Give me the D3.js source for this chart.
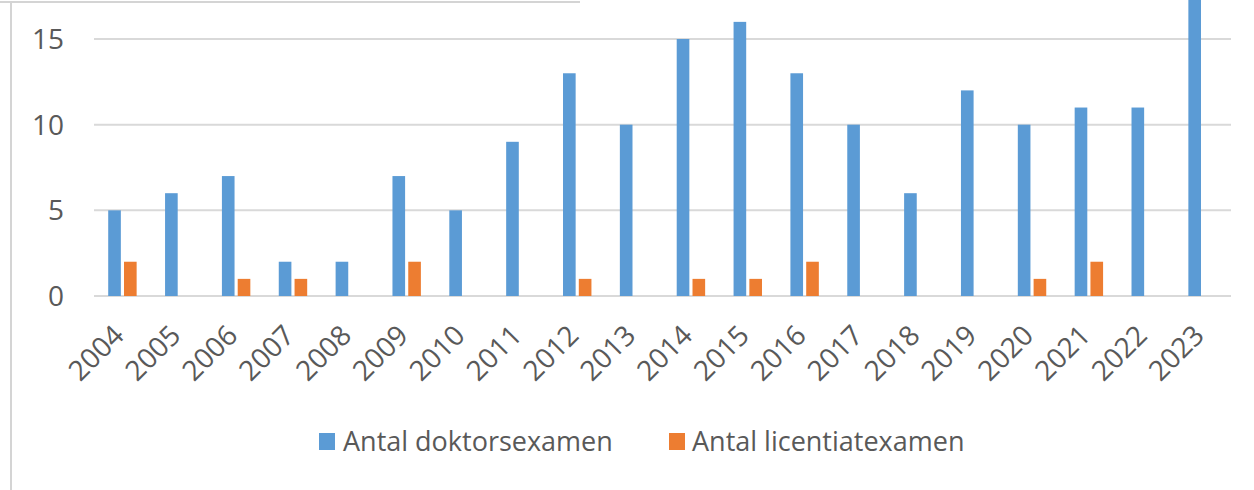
<!DOCTYPE html>
<html>
<head>
<meta charset="utf-8">
<script src="https://cdn.jsdelivr.net/npm/d3@7"></script>
<style>
  html, body { margin: 0; padding: 0; background: #fff; }
  svg { display: block; }
  text { font-family: "Open Sans", "Noto Sans", sans-serif; fill: #595959; }
</style>
</head>
<body>
<svg id="chart" width="1254" height="490"></svg>
<script>
const years = ["2004","2005","2006","2007","2008","2009","2010","2011","2012","2013","2014","2015","2016","2017","2018","2019","2020","2021","2022","2023"];
const doktor = [5,6,7,2,2,7,5,9,13,10,15,16,13,10,6,12,10,11,11,18];
const licentiat = [2,0,1,1,0,2,0,0,1,0,1,1,2,0,0,0,1,2,0,0];
const seriesNames = ["Antal doktorsexamen", "Antal licentiatexamen"];
const colors = ["#5B9BD5", "#ED7D31"];
const yTicks = [0,5,10,15];

const svg = d3.select("#chart");
const W = 1254, H = 490;

// decorative frame lines of the screenshot
svg.append("line").attr("x1", 0).attr("x2", 580).attr("y1", 2).attr("y2", 2)
  .attr("stroke", "#d4d4d4").attr("stroke-width", 2);
svg.append("line").attr("x1", 11).attr("x2", 11).attr("y1", 2).attr("y2", H)
  .attr("stroke", "#d4d4d4").attr("stroke-width", 2);

const x0 = d3.scaleBand().domain(years).range([94, 1231]).paddingInner(0.5).paddingOuter(0.25);
const x1 = d3.scaleBand().domain([0,1]).range([0, x0.bandwidth()]).paddingInner(0.2);
const y = d3.scaleLinear().domain([0, 15]).range([296, 39]);

// gridlines
const grid = svg.append("g");
grid.selectAll("line").data(yTicks).join("line")
  .attr("x1", 94).attr("x2", 1231)
  .attr("y1", d => y(d)).attr("y2", d => y(d))
  .attr("stroke", "#d9d9d9").attr("stroke-width", 2);

// y labels
svg.append("g").selectAll("text").data(yTicks).join("text")
  .attr("x", 64).attr("y", d => y(d)).attr("dy", "0.36em")
  .attr("text-anchor", "end").attr("font-size", 28)
  .text(d => d);

// bars
const data = years.map((yr, i) => ({ yr, vals: [doktor[i], licentiat[i]] }));
const groups = svg.append("g").selectAll("g").data(data).join("g")
  .attr("transform", d => `translate(${x0(d.yr)},0)`);
groups.selectAll("rect").data(d => d.vals.map((v, k) => ({ v, k }))).join("rect")
  .attr("x", d => x1(d.k)).attr("width", x1.bandwidth())
  .attr("y", d => y(d.v)).attr("height", d => y(0) - y(d.v))
  .attr("fill", d => colors[d.k]);

// x labels
svg.append("g").selectAll("text").data(years).join("text")
  .attr("text-anchor", "end").attr("font-size", 28)
  .attr("transform", d => `translate(${x0(d) + x0.bandwidth()/2 - 4},${330}) rotate(-45)`)
  .attr("dy", "0.36em")
  .text(d => d);

// legend
const legendItems = [{ name: seriesNames[0], c: colors[0], sx: 319, tx: 343 },
                     { name: seriesNames[1], c: colors[1], sx: 669, tx: 692 }];
const lg = svg.append("g");
legendItems.forEach(it => {
  lg.append("rect").attr("x", it.sx).attr("y", 433).attr("width", 16).attr("height", 17).attr("fill", it.c);
  lg.append("text").attr("x", it.tx).attr("y", 451).attr("font-size", 27).text(it.name);
});
</script>
</body>
</html>
